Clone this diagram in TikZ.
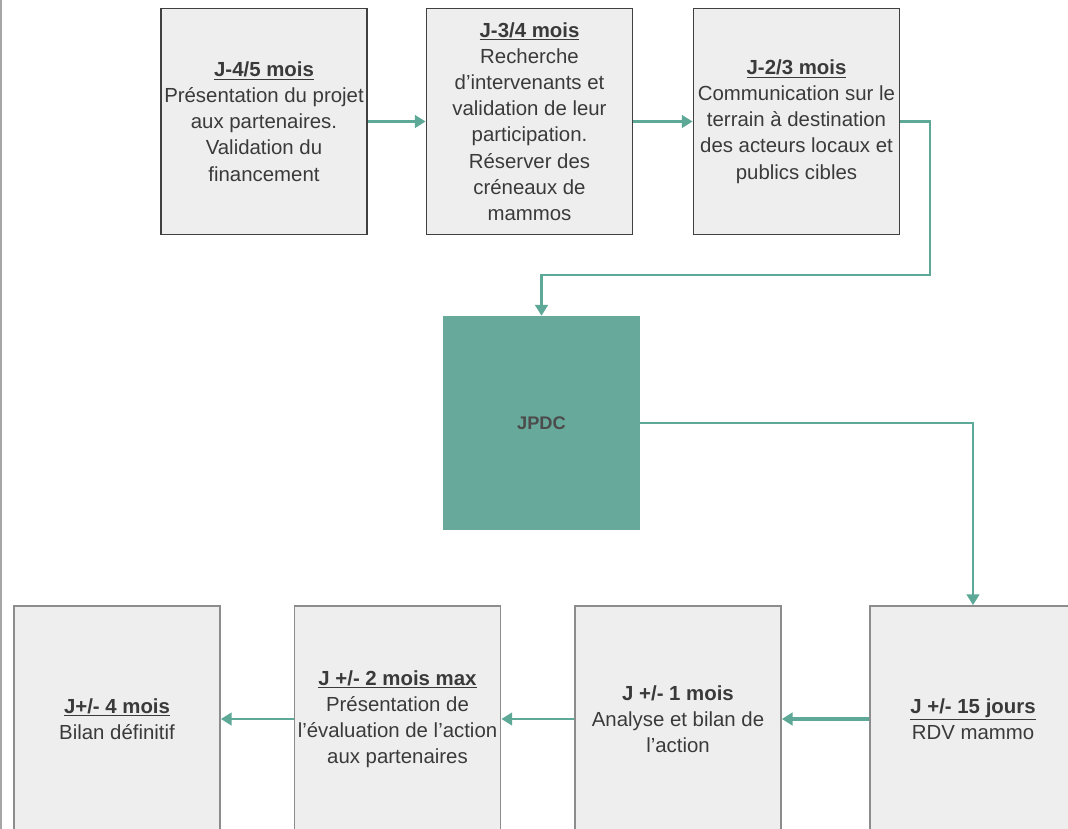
\documentclass[tikz,border=0pt]{standalone}
\usepackage{fontspec}
\setmainfont{Liberation Sans}
\usetikzlibrary{arrows.meta, positioning}
\definecolor{tealline}{HTML}{5DA897}
\definecolor{jpdcfill}{HTML}{67A99A}
\definecolor{boxfill}{HTML}{EEEEEE}
\definecolor{txtgrey}{HTML}{3A3A3A}
\newcommand{\titre}[1]{\underline{\textbf{#1}}}
\tikzstyle{etape} = [rectangle,
minimum width=5.15cm,
minimum height=5.65cm,
inner sep=0pt,
align=center,
fill=boxfill,
text=txtgrey,
font={\fontsize{14.5}{18.6}\selectfont}]
\tikzstyle{haut} = [etape, draw=black!75, line width=1.3pt]
\tikzstyle{bas} = [etape, draw=black!45, line width=1.3pt]
\tikzstyle{fleche} = [line width=1.6pt, tealline, -{Triangle[length=0.27cm, width=0.32cm]}]

\begin{document}
\begin{tikzpicture}[x=0.025cm, y=-0.025cm]
        \useasboundingbox (0,0) rectangle (1068,829);
        \clip (0,0) rectangle (1068,829);
        \fill[white] (0,0) rectangle (1068,829);
        \draw[black!35, line width=0.8pt] (1,0) -- (1,829);

        % avant la journee
        \node[haut] (j45) at (264,121.5) {\titre{J-4/5 mois}\\Présentation du projet\\aux partenaires.\\Validation du\\financement};
        \node[haut] (j34) at (529.5,121.5) {\titre{J-3/4 mois}\\Recherche\\d'intervenants et\\validation de leur\\participation.\\Réserver des\\créneaux de\\mammos};
        \node[haut] (j23) at (796.5,121.5) {\titre{J-2/3 mois}\\Communication sur le\\terrain à destination\\des acteurs locaux et\\publics cibles};

        \node[rectangle, fill=jpdcfill, minimum width=4.92cm, minimum height=5.35cm, text=black!70, font={\fontsize{13}{16}\selectfont\bfseries}] (jpdc) at (541.5,423) {JPDC};

        % apres la journee
        \node[bas] (j15) at (973,719) {\titre{J +/- 15 jours}\\RDV mammo};
        \node[bas] (j1) at (678,719) {\textbf{J +/- 1 mois}\\Analyse et bilan de\\l'action};
        \node[bas] (j2) at (397.5,719) {\titre{J +/- 2 mois max}\\Présentation de\\l'évaluation de l'action\\aux partenaires};
        \node[bas] (j4) at (117,719) {\titre{J+/- 4 mois}\\Bilan définitif};

        \coordinate (coude) at (930,275);
        \draw[fleche] (j45.east) -- (j34.west);
        \draw[fleche] (j34.east) -- (j23.west);
        \draw[fleche] (j23.east) -| (coude) -| (jpdc.north);
        \draw[fleche] (jpdc.east) -| (j15.north);
        \draw[fleche, line width=2.4pt] (j15.west) -- (j1.east);
        \draw[fleche] (j1.west) -- (j2.east);
        \draw[fleche] (j2.west) -- (j4.east);
    \end{tikzpicture}
\end{document}
